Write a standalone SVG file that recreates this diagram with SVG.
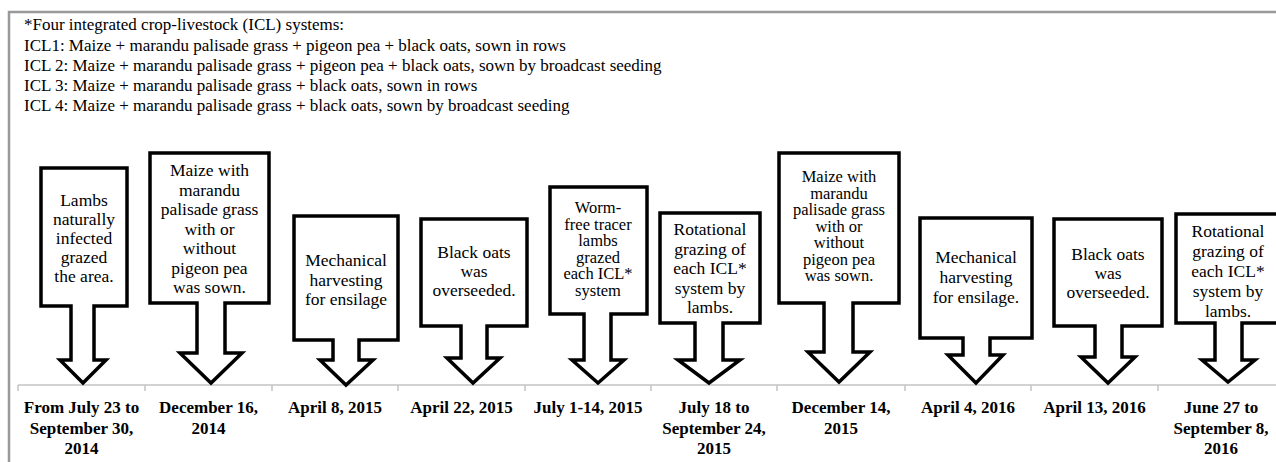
<svg xmlns="http://www.w3.org/2000/svg" width="1276" height="462" viewBox="0 0 1276 462">
<style>
.hdr{font-family:"Liberation Serif","Times New Roman",serif;font-size:17px;fill:#000}
.box{fill:#fff;stroke:#000;stroke-width:3.5;stroke-linejoin:miter}
.bt{font-family:"Liberation Serif","Times New Roman",serif;font-size:17.5px;fill:#000;text-anchor:middle}
.bs{font-family:"Liberation Serif","Times New Roman",serif;font-size:16.5px;fill:#000;text-anchor:middle}
.dt{font-family:"Liberation Serif","Times New Roman",serif;font-size:17px;font-weight:bold;fill:#000;text-anchor:middle}
.tl{stroke:#c4c4c4;stroke-width:1.5;fill:none}
</style>
<rect width="1276" height="462" fill="#fff"/>
<rect x="9" y="12" width="1300" height="500" fill="none" stroke="#999" stroke-width="2.5"/>
<g id="legend">
<text class="hdr" x="24" y="30">*Four integrated crop-livestock (ICL) systems:</text>
<text class="hdr" x="24" y="51">ICL1: Maize + marandu palisade grass + pigeon pea + black oats, sown in rows</text>
<text class="hdr" x="24" y="71">ICL 2: Maize + marandu palisade grass + pigeon pea + black oats, sown by broadcast seeding</text>
<text class="hdr" x="24" y="91">ICL 3: Maize + marandu palisade grass + black oats, sown in rows</text>
<text class="hdr" x="24" y="111">ICL 4: Maize + marandu palisade grass + black oats, sown by broadcast seeding</text>
</g>
<g id="connectors">
<path class="tl" d="M18 385 H1276 M18 385 V391 M145 385 V391 M272 385 V391 M398 385 V391 M525 385 V391 M651 385 V391 M777 385 V391 M905 385 V391 M1031 385 V391 M1158 385 V391"/>
</g>
<g id="e1">
<path class="box" d="M41 168 H127 V306 H94 V360 H106 L83 383 L60 360 H71 V306 H41 Z"/>
<text class="bt"><tspan x="84" y="206">Lambs</tspan><tspan x="84" y="225">naturally</tspan><tspan x="84" y="244">infected</tspan><tspan x="84" y="263">grazed</tspan><tspan x="84" y="282">the area.</tspan></text>
<text class="dt"><tspan x="81.5" y="413">From July 23 to</tspan><tspan x="81.5" y="433.5">September 30,</tspan><tspan x="81.5" y="454">2014</tspan></text>
</g>
<g id="e2">
<path class="box" d="M150 153 H269 V303 H225 V353 H242 L211 383 L180 353 H197 V303 H150 Z"/>
<text class="bt"><tspan x="209.5" y="176">Maize with</tspan><tspan x="209.5" y="195.5">marandu</tspan><tspan x="209.5" y="215">palisade grass</tspan><tspan x="209.5" y="234.5">with or</tspan><tspan x="209.5" y="254">without</tspan><tspan x="209.5" y="273.5">pigeon pea</tspan><tspan x="209.5" y="293">was sown.</tspan></text>
<text class="dt"><tspan x="208.5" y="413">December 16,</tspan><tspan x="208.5" y="433.5">2014</tspan></text>
</g>
<g id="e3">
<path class="box" d="M294 216 H398 V340 H359 V360 H373 L346 385 L320 360 H333 V340 H294 Z"/>
<text class="bt"><tspan x="346" y="266">Mechanical</tspan><tspan x="346" y="285.5">harvesting</tspan><tspan x="346" y="305">for ensilage</tspan></text>
<text class="dt"><tspan x="335" y="413">April 8, 2015</tspan></text>
</g>
<g id="e4">
<path class="box" d="M421 219 H527 V326 H487 V358 H500 L473 383 L447 358 H461 V326 H421 Z"/>
<text class="bt"><tspan x="474" y="258">Black oats</tspan><tspan x="474" y="277">was</tspan><tspan x="474" y="296">overseeded.</tspan></text>
<text class="dt"><tspan x="461.5" y="413">April 22, 2015</tspan></text>
</g>
<g id="e5">
<path class="box" d="M550 187 H647 V314 H611 V360 H624 L598 383 L572 360 H584 V314 H550 Z"/>
<text class="bs"><tspan x="598" y="213">Worm-</tspan><tspan x="598" y="229.5">free tracer</tspan><tspan x="598" y="246">lambs</tspan><tspan x="598" y="262.5">grazed</tspan><tspan x="598" y="279">each ICL*</tspan><tspan x="598" y="295.5">system</tspan></text>
<text class="dt"><tspan x="588" y="413">July 1-14, 2015</tspan></text>
</g>
<g id="e6">
<path class="box" d="M660 213 H760 V323 H723 V360 H740 L709 383 L678 360 H695 V323 H660 Z"/>
<text class="bt"><tspan x="710" y="235">Rotational</tspan><tspan x="710" y="254.5">grazing of</tspan><tspan x="710" y="274">each ICL*</tspan><tspan x="710" y="293.5">system by</tspan><tspan x="710" y="313">lambs.</tspan></text>
<text class="dt"><tspan x="714" y="413">July 18 to</tspan><tspan x="714" y="433.5">September 24,</tspan><tspan x="714" y="454">2015</tspan></text>
</g>
<g id="e7">
<path class="box" d="M779 153 H899 V303 H853 V352 H870 L839 382 L808 352 H824 V303 H779 Z"/>
<text class="bs"><tspan x="839" y="182">Maize with</tspan><tspan x="839" y="198.5">marandu</tspan><tspan x="839" y="215">palisade grass</tspan><tspan x="839" y="231.5">with or</tspan><tspan x="839" y="248">without</tspan><tspan x="839" y="264.5">pigeon pea</tspan><tspan x="839" y="281">was sown.</tspan></text>
<text class="dt"><tspan x="841" y="413">December 14,</tspan><tspan x="841" y="433.5">2015</tspan></text>
</g>
<g id="e8">
<path class="box" d="M920 218 H1032 V338 H990 V355 H1003 L976 383 L948 355 H963 V338 H920 Z"/>
<text class="bt"><tspan x="976" y="263">Mechanical</tspan><tspan x="976" y="283">harvesting</tspan><tspan x="976" y="303">for ensilage.</tspan></text>
<text class="dt"><tspan x="968" y="413">April 4, 2016</tspan></text>
</g>
<g id="e9">
<path class="box" d="M1054 219 H1162 V326 H1122 V357 H1135 L1108 383 L1081 357 H1095 V326 H1054 Z"/>
<text class="bt"><tspan x="1108" y="260">Black oats</tspan><tspan x="1108" y="279">was</tspan><tspan x="1108" y="298">overseeded.</tspan></text>
<text class="dt"><tspan x="1094.5" y="413">April 13, 2016</tspan></text>
</g>
<g id="e10">
<path class="box" d="M1176 214 H1300 V323 H1242 V360 H1255 L1228 382 L1202 360 H1215 V323 H1176 Z"/>
<text class="bt"><tspan x="1228" y="237">Rotational</tspan><tspan x="1228" y="257">grazing of</tspan><tspan x="1228" y="277">each ICL*</tspan><tspan x="1228" y="297">system by</tspan><tspan x="1228" y="317">lambs.</tspan></text>
<text class="dt"><tspan x="1221" y="413">June 27 to</tspan><tspan x="1221" y="433.5">September 8,</tspan><tspan x="1221" y="454">2016</tspan></text>
</g>
</svg>
